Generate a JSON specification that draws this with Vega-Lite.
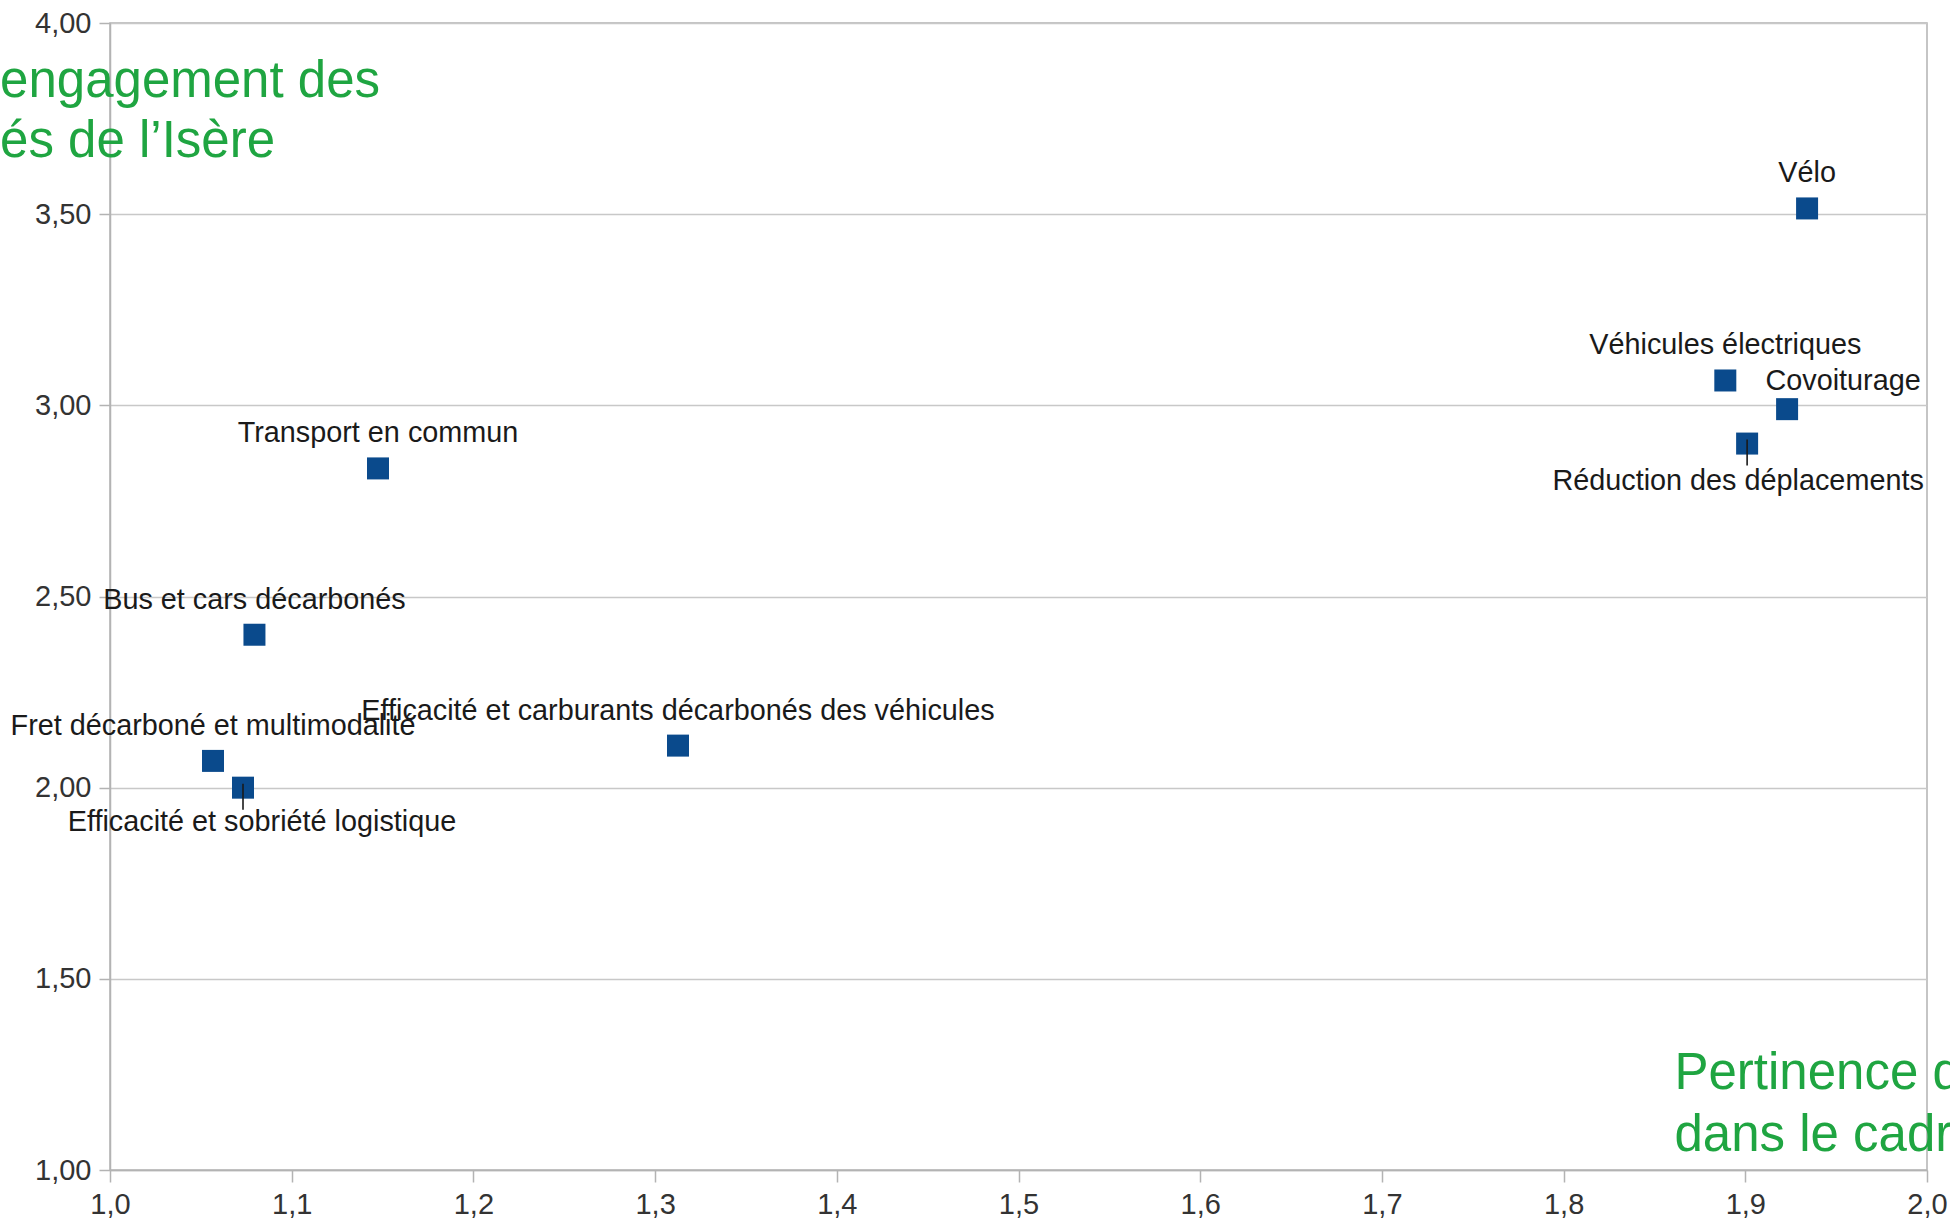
{
  "$schema": "https://vega.github.io/schema/vega-lite/v6.json",
  "width": 1817,
  "height": 1147,
  "autosize": {"type": "none"},
  "padding": {"left": 110, "top": 23, "right": 23, "bottom": 51},
  "background": "white",
  "config": {
    "view": {"stroke": "#b3b3b3", "strokeWidth": 1.5},
    "font": "Liberation Sans",
    "axis": {
      "labelFont": "Liberation Sans",
      "labelFontSize": 29,
      "labelColor": "#333333",
      "labelFlush": false,
      "labelOverlap": false,
      "domainColor": "#b3b3b3",
      "domainWidth": 1.5,
      "tickColor": "#b3b3b3",
      "tickWidth": 1.5,
      "gridColor": "#c8c8c8",
      "gridWidth": 1.5,
      "title": null
    }
  },
  "datasets": {
    "points": [
      {"name": "Vélo", "pertinence": 1.934, "engagement": 3.515},
      {"name": "Véhicules électriques", "pertinence": 1.889, "engagement": 3.065},
      {"name": "Covoiturage", "pertinence": 1.923, "engagement": 2.99},
      {"name": "Réduction des déplacements", "pertinence": 1.901, "engagement": 2.9},
      {"name": "Transport en commun", "pertinence": 1.1475, "engagement": 2.835},
      {"name": "Bus et cars décarbonés", "pertinence": 1.0795, "engagement": 2.4},
      {"name": "Fret décarboné et multimodalité", "pertinence": 1.0567, "engagement": 2.07},
      {"name": "Efficacité et sobriété logistique", "pertinence": 1.0732, "engagement": 2.0},
      {"name": "Efficacité et carburants décarbonés des véhicules", "pertinence": 1.3126, "engagement": 2.11}
    ],
    "titles": [
      {"text": "engagement des", "pertinence": 0.9395, "engagement": 3.807},
      {"text": "és de l’Isère", "pertinence": 0.9395, "engagement": 3.65},
      {"text": "Pertinence de", "pertinence": 1.861, "engagement": 1.212},
      {"text": "dans le cadre", "pertinence": 1.861, "engagement": 1.05}
    ]
  },
  "encoding": {
    "x": {
      "field": "pertinence",
      "type": "quantitative",
      "scale": {"domain": [1, 2], "nice": false, "zero": false},
      "axis": {
        "values": [1, 1.1, 1.2, 1.3, 1.4, 1.5, 1.6, 1.7, 1.8, 1.9, 2],
        "grid": false,
        "tickSize": 12,
        "labelPadding": 8,
        "labelExpr": "replace(format(datum.value, '.1f'), '.', ',')"
      }
    },
    "y": {
      "field": "engagement",
      "type": "quantitative",
      "scale": {"domain": [1, 4], "nice": false, "zero": false},
      "axis": {
        "values": [1, 1.5, 2, 2.5, 3, 3.5, 4],
        "grid": true,
        "tickSize": 11,
        "labelPadding": 8,
        "labelExpr": "replace(format(datum.value, '.2f'), '.', ',')"
      }
    }
  },
  "layer": [
    {
      "data": {"name": "points"},
      "mark": {"type": "point", "shape": "square", "filled": true, "size": 484, "color": "#0a4a8c", "opacity": 1}
    },
    {
      "data": {"name": "points"},
      "transform": [{"filter": {"field": "name", "oneOf": ["Réduction des déplacements", "Efficacité et sobriété logistique"]}}],
      "mark": {"type": "tick", "orient": "vertical", "size": 26, "thickness": 1.6, "yOffset": 9, "color": "#1a1a1a", "opacity": 1}
    },
    {
      "data": {"name": "points"},
      "transform": [{"filter": {"not": {"field": "name", "oneOf": ["Réduction des déplacements", "Efficacité et sobriété logistique", "Covoiturage"]}}}],
      "mark": {"type": "text", "align": "center", "baseline": "alphabetic", "dy": -26, "fontSize": 28.8, "font": "Liberation Sans", "color": "#1a1a1a"},
      "encoding": {"text": {"field": "name"}}
    },
    {
      "data": {"name": "points"},
      "transform": [{"filter": {"field": "name", "equal": "Covoiturage"}}],
      "mark": {"type": "text", "align": "center", "baseline": "alphabetic", "dx": 56, "dy": -19, "fontSize": 28.8, "font": "Liberation Sans", "color": "#1a1a1a"},
      "encoding": {"text": {"field": "name"}}
    },
    {
      "data": {"name": "points"},
      "transform": [{"filter": {"field": "name", "equal": "Réduction des déplacements"}}],
      "mark": {"type": "text", "align": "center", "baseline": "alphabetic", "dx": -9, "dy": 46, "fontSize": 28.8, "font": "Liberation Sans", "color": "#1a1a1a"},
      "encoding": {"text": {"field": "name"}}
    },
    {
      "data": {"name": "points"},
      "transform": [{"filter": {"field": "name", "equal": "Efficacité et sobriété logistique"}}],
      "mark": {"type": "text", "align": "center", "baseline": "alphabetic", "dx": 19, "dy": 43, "fontSize": 28.8, "font": "Liberation Sans", "color": "#1a1a1a"},
      "encoding": {"text": {"field": "name"}}
    },
    {
      "data": {"name": "titles"},
      "mark": {"type": "text", "align": "left", "baseline": "alphabetic", "fontSize": 51, "font": "Liberation Sans", "color": "#1fa541"},
      "encoding": {"text": {"field": "text"}}
    }
  ]
}
